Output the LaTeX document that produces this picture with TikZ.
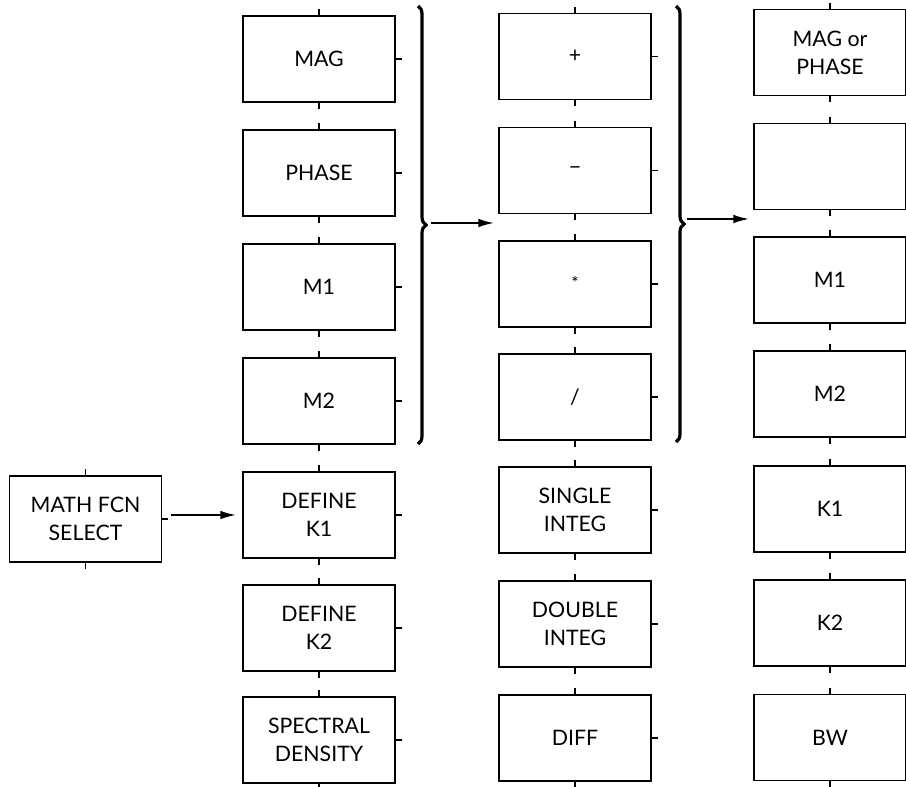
\documentclass[tikz,border=0pt]{standalone}
\usepackage{fontspec}
\setmainfont{Lato}
\usetikzlibrary{decorations.pathreplacing,arrows.meta}
\begin{document}
\begin{tikzpicture}[x=0.75pt,y=-0.75pt,
  box/.style={draw,line width=1.1pt,minimum width=114pt,minimum height=64.5pt,
    inner sep=0pt,align=center,font=\fontsize{16}{21}\selectfont},
  tk/.style={line width=1pt},
  arr/.style={line width=1.5pt,-{Latex[length=12pt,width=6.5pt]}},
  brc/.style={decorate,decoration={brace,amplitude=6pt},line width=2.4pt}]
\useasboundingbox (0,0) rectangle (906,786);
\clip (0,0) rectangle (906,786);
% column 1
\node[box] (mag)   at (319,59)  {MAG};
\node[box] (phase) at (319,173) {PHASE};
\node[box] (ma)    at (319,287) {M1};
\node[box] (mb)    at (319,401) {M2};
\node[box] (dka)   at (319,515) {DEFINE\\K1};
\node[box] (dkb)   at (319,628) {DEFINE\\K2};
\node[box] (spec)  at (319,740) {SPECTRAL\\DENSITY};
% column 2
\node[box] (plus)  at (575,56.5)  {+};
\node[box] (minus) at (575,170.5) {−};
\node[box] (times) at (575,284)   {\raisebox{0.2ex}{\fontsize{13}{13}\selectfont *}};
\node[box] (divi)  at (575,397)   {/};
\node[box] (sint)  at (575,510)   {SINGLE\\INTEG};
\node[box] (dint)  at (575,624)   {DOUBLE\\INTEG};
\node[box] (diff)  at (575,738)   {DIFF};
% column 3
\node[box] (magph) at (830,52.5)  {MAG or\\PHASE};
\node[box] (blank) at (830,166.5) {};
\node[box] (ra)    at (830,280)   {M1};
\node[box] (rb)    at (830,394)   {M2};
\node[box] (rka)   at (830,509)   {K1};
\node[box] (rkb)   at (830,623)   {K2};
\node[box] (bw)    at (830,737.5) {BW};
% math box
\node[box] (math) at (85.5,519) {MATH FCN\\SELECT};
% ticks
\foreach \n in {mag,phase,ma,mb,dka,dkb,spec,plus,minus,times,divi,sint,dint,diff,magph,blank,ra,rb,rka,rkb,bw,math}{
  \draw[tk] (\n.north) -- ++(0,-6);
  \draw[tk] (\n.south) -- ++(0,6);
  \draw[tk] (\n.east) -- ++(6,0);
}
% arrow from math box
\draw[arr,shorten <=6.75pt,shorten >=4.5pt] (dka.west -| math.east) -- (dka.west);
% braces
\coordinate (b1top) at (418,6);
\coordinate (b1bot) at (418,444);
\coordinate (b2top) at (676,6);
\coordinate (b2bot) at (676,442);
\draw[brc] (b1top) -- (b1bot);
\draw[brc] (b2top) -- (b2bot);
\coordinate (b1tip) at (431,223);
\coordinate (b2tip) at (687,219);
\draw[arr,shorten >=3pt] (b1tip) -- (b1tip -| minus.west);
\draw[arr,shorten >=3pt] (b2tip) -- (b2tip -| blank.west);
\end{tikzpicture}
\end{document}
